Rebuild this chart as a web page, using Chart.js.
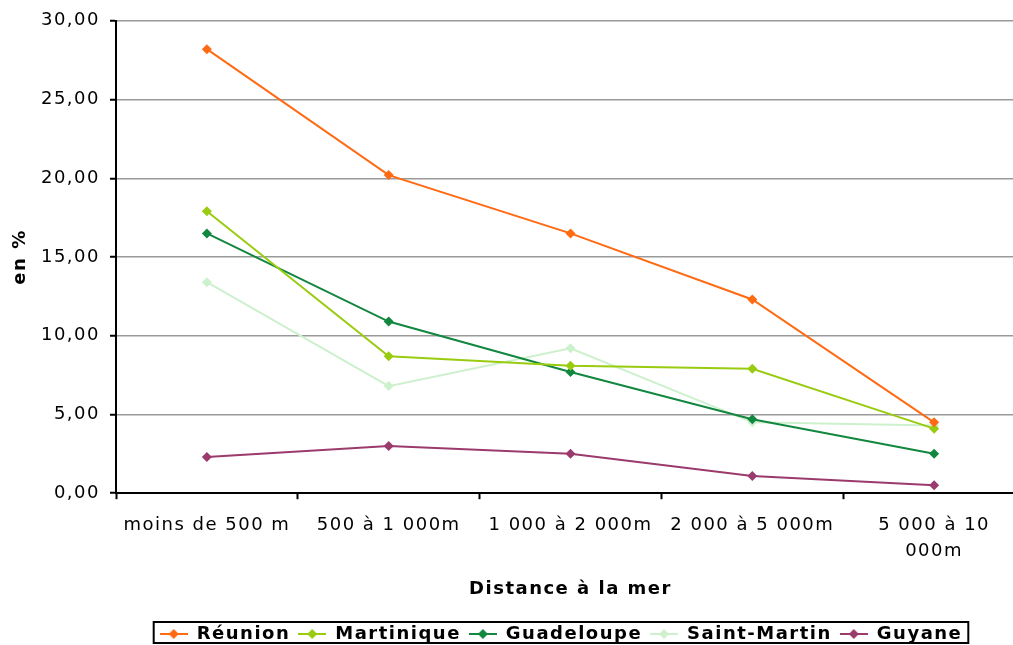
<!DOCTYPE html>
<html>
<head>
<meta charset="utf-8">
<script src="https://cdn.jsdelivr.net/npm/chart.js@4"></script>
<style>
	html, body { margin: 0; padding: 0; background: #fff; overflow: hidden; }
	#wrap { width: 1013px; height: 645px; overflow: hidden; }
</style>
</head>
<body>
<div id="wrap"><canvas id="chart" width="1030" height="645"></canvas></div>
<script>
const categories = ['moins de 500 m', '500 à 1 000m', '1 000 à 2 000m', '2 000 à 5 000m', ['5 000 à 10', '000m']];
const reunion = [28.2, 20.2, 16.5, 12.3, 4.5];
const martinique = [17.9, 8.7, 8.1, 7.9, 4.1];
const guadeloupe = [16.5, 10.9, 7.7, 4.7, 2.5];
const saintMartin = [13.4, 6.8, 9.2, 4.5, 4.3];
const guyane = [2.3, 3.0, 2.5, 1.1, 0.5];
const yTicks = [0, 5, 10, 15, 20, 25, 30];

const FONT = "'DejaVu Sans', Verdana, sans-serif";

// small line + diamond picture for the legend
function legendMark(color) {
	const c = document.createElement('canvas');
	c.width = 28; c.height = 12;
	const g = c.getContext('2d');
	g.strokeStyle = color; g.fillStyle = color; g.lineWidth = 2;
	g.beginPath(); g.moveTo(0, 6); g.lineTo(28, 6); g.stroke();
	g.beginPath(); g.moveTo(14, 1); g.lineTo(19, 6); g.lineTo(14, 11); g.lineTo(9, 6); g.closePath(); g.fill();
	return c;
}

function series(label, data, color) {
	return {
		label: label,
		data: data,
		borderColor: color,
		backgroundColor: color,
		borderWidth: 2,
		pointStyle: 'rectRot',
		pointRadius: 5,
		pointBorderWidth: 0,
		tension: 0,
		legendMark: legendMark(color)
	};
}

// the old chart text is widely spaced
const spacing = {
	id: 'spacing',
	beforeUpdate(chart) { chart.ctx.letterSpacing = '1.5px'; },
	beforeDraw(chart) { chart.ctx.letterSpacing = '1.5px'; }
};

// legend sits a bit right of the canvas centre and lower down
const legendShift = {
	id: 'legendShift',
	afterLayout(chart) {
		const lg = chart.legend;
		lg.left += 46; lg.right += 46;
		lg.top += 8; lg.bottom += 8;
	}
};

const legendBorder = {
	id: 'legendBorder',
	afterDraw(chart) {
		const boxes = chart.legend.legendHitBoxes;
		if (!boxes || !boxes.length) return;
		let l = Infinity, r = -Infinity, t = Infinity, b = -Infinity;
		boxes.forEach(h => {
			l = Math.min(l, h.left); r = Math.max(r, h.left + h.width);
			t = Math.min(t, h.top); b = Math.max(b, h.top + h.height);
		});
		b = Math.min(b + 2, chart.height - 2);
		const ctx = chart.ctx;
		ctx.save();
		ctx.strokeStyle = '#000';
		ctx.lineWidth = 2;
		ctx.strokeRect(l - 6, t - 3, r - l + 12, b - t + 3);
		ctx.restore();
	}
};

new Chart(document.getElementById('chart'), {
	type: 'line',
	data: {
		labels: categories,
		datasets: [
			series('Réunion', reunion, '#ff6a13'),
			series('Martinique', martinique, '#99cc11'),
			series('Guadeloupe', guadeloupe, '#12873f'),
			series('Saint-Martin', saintMartin, '#cdf0cd'),
			series('Guyane', guyane, '#9b3a6c')
		]
	},
	options: {
		responsive: false,
		animation: false,
		layout: { padding: { top: 12, right: 0, bottom: 0, left: 0 } },
		plugins: {
			tooltip: { enabled: false },
			legend: {
				position: 'bottom',
				labels: {
					color: '#000',
					font: { family: FONT, size: 18, weight: 'bold' },
					usePointStyle: true,
					pointStyleWidth: 28,
					padding: 8,
					generateLabels(chart) {
						return chart.data.datasets.map((ds, i) => ({
							text: ds.label,
							pointStyle: ds.legendMark,
							fillStyle: ds.borderColor,
							strokeStyle: ds.borderColor,
							lineWidth: 0,
							hidden: false,
							datasetIndex: i,
							fontColor: '#000'
						}));
					}
				}
			}
		},
		scales: {
			x: {
				offset: true,
				grid: { offset: true, drawOnChartArea: false, drawTicks: true, tickLength: 6, tickColor: '#000', tickWidth: 2 },
				border: { color: '#000', width: 2 },
				ticks: { color: '#000', font: { family: FONT, size: 18, lineHeight: 1.45 }, padding: 13, maxRotation: 0, autoSkip: false },
				title: { display: true, text: 'Distance à la mer', color: '#000', font: { family: FONT, size: 18, weight: 'bold' }, padding: { top: 1, bottom: 9 } }
			},
			y: {
				min: 0,
				max: 30,
				afterBuildTicks(scale) { scale.ticks = yTicks.map(v => ({ value: v })); },
				afterFit(scale) { scale.width = 116; },
				grid: { color: '#9a9a9a', lineWidth: 1.5, tickLength: 6, tickColor: '#000', tickWidth: 2 },
				border: { color: '#000', width: 2 },
				ticks: {
					color: '#000',
					font: { family: FONT, size: 18 },
					padding: 10,
					callback: v => v.toFixed(2).replace('.', ',')
				},
				title: { display: true, text: 'en %', color: '#000', font: { family: FONT, size: 18, weight: 'bold' }, padding: { top: 10, bottom: 0 } }
			}
		}
	},
	plugins: [spacing, legendShift, legendBorder]
});
</script>
</body>
</html>
